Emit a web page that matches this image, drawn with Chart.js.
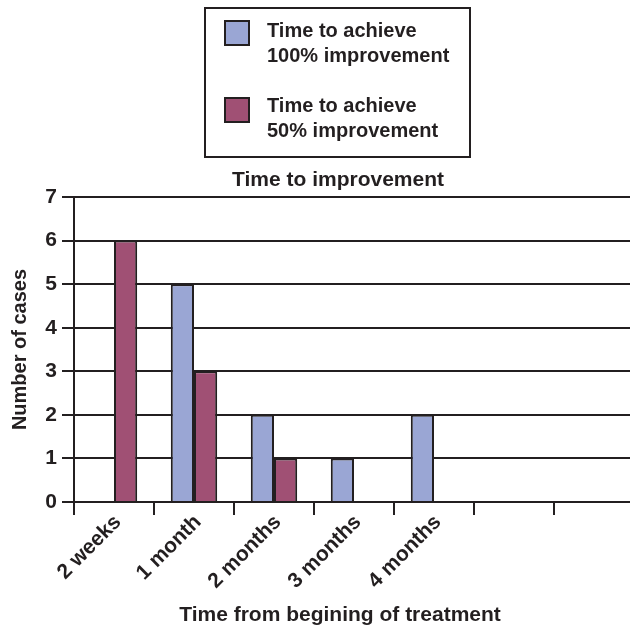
<!DOCTYPE html>
<html>
<head>
<meta charset="utf-8">
<script src="https://cdn.jsdelivr.net/npm/chart.js@4/dist/chart.umd.min.js"></script>
<style>
  html, body { margin: 0; padding: 0; background: #fff; overflow: hidden; width: 630px; height: 630px; }
  #wrap { width: 640px; height: 630px; }
</style>
</head>
<body>
<div id="wrap"><canvas id="c" width="640" height="630"></canvas></div>
<script>
const categories = ['2 weeks', '1 month', '2 months', '3 months', '4 months', '', ''];
const full100 = [0, 5, 2, 1, 2, null, null];
const half50 = [6, 3, 1, 0, 0, null, null];
const yTicks = [0, 1, 2, 3, 4, 5, 6, 7];
const seriesNames = [['Time to achieve', '100% improvement'], ['Time to achieve', '50% improvement']];
const chartTitle = 'Time to improvement';
const xTitle = 'Time from begining of treatment';
const yTitle = 'Number of cases';

const INK = '#231f20';
const BLUE = '#9aa6d4';
const RED = '#a05074';
const FONT = '"Liberation Sans", Arial, Helvetica, sans-serif';

const overlay = {
  id: 'overlay',
  afterDraw(chart) {
    const ctx = chart.ctx;
    ctx.save();
    ctx.fillStyle = INK;
    ctx.font = 'bold 21px ' + FONT;
    ctx.textAlign = 'center';
    ctx.textBaseline = 'alphabetic';
    ctx.fillText(chartTitle, 338, 186);
    ctx.fillText(xTitle, 340, 621);
    // legend
    ctx.strokeStyle = INK;
    ctx.lineWidth = 2;
    ctx.strokeRect(205, 8, 265, 149);
    const ds = chart.data.datasets;
    const rows = [[21, 37, 62], [98, 112, 137]];
    ds.forEach((d, i) => {
      const r = rows[i];
      ctx.fillStyle = d.backgroundColor;
      ctx.fillRect(225, r[0], 24, 24);
      ctx.strokeStyle = INK;
      ctx.lineWidth = 2;
      ctx.strokeRect(225, r[0], 24, 24);
      ctx.fillStyle = INK;
      ctx.textAlign = 'left';
      ctx.font = 'bold 20px ' + FONT;
      ctx.fillText(seriesNames[i][0], 267, r[1]);
      ctx.fillText(seriesNames[i][1], 267, r[2]);
    });
    ctx.restore();
  }
};

new Chart(document.getElementById('c'), {
  type: 'bar',
  data: {
    labels: categories,
    datasets: [
      { label: seriesNames[0].join(' '), data: full100, backgroundColor: BLUE, borderColor: INK, borderWidth: 2, borderSkipped: 'start' },
      { label: seriesNames[1].join(' '), data: half50, backgroundColor: RED, borderColor: INK, borderWidth: 2, borderSkipped: 'start' }
    ]
  },
  options: {
    responsive: false,
    animation: false,
    events: [],
    layout: { padding: { top: 197, right: 6, left: 0, bottom: 0 } },
    plugins: { legend: { display: false }, title: { display: false }, tooltip: { enabled: false } },
    datasets: { bar: { categoryPercentage: 0.58, barPercentage: 1.0 } },
    scales: {
      x: {
        grid: { offset: true, drawOnChartArea: false, drawTicks: true, tickLength: 13, color: INK, lineWidth: 2 },
        border: { display: true, color: INK, width: 2 },
        ticks: { minRotation: 45, maxRotation: 45, autoSkip: false, color: INK, padding: -5, labelOffset: 4, font: { family: FONT, size: 21, weight: 'bold' } },
        afterFit(scale) { scale.height = 128; }
      },
      y: {
        min: 0, max: 7,
        afterBuildTicks(scale) { scale.ticks = yTicks.map(v => ({ value: v })); },
        grid: { color: INK, lineWidth: 2, drawTicks: true, tickLength: 12 },
        border: { display: true, color: INK, width: 2 },
        ticks: { color: INK, padding: 5, font: { family: FONT, size: 21, weight: 'bold' } },
        title: { display: true, text: yTitle, color: INK, padding: { top: 8, bottom: 0 }, font: { family: FONT, size: 20, weight: 'bold' } },
        afterFit(scale) { scale.width = 74; }
      }
    }
  },
  plugins: [overlay]
});
</script>
</body>
</html>
